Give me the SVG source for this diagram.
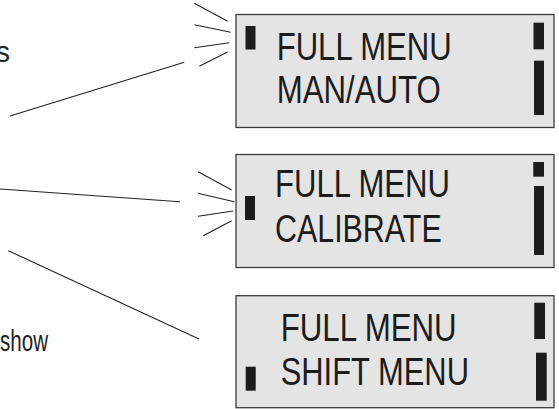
<svg xmlns="http://www.w3.org/2000/svg" width="559" height="409" viewBox="0 0 559 409">
<style>
.box{fill:#e4e4e4;stroke:#3a3a3a;stroke-width:1.3}
.bar{fill:#1c1c1c}
.lcd{font-family:"Liberation Sans Narrow","Liberation Sans",Arial,sans-serif;font-size:39px;fill:#1c1c1c}
.lbl{font-family:"Liberation Sans Narrow","Liberation Sans",Arial,sans-serif;font-size:30px;fill:#222}
.ln{stroke:#222;stroke-width:1.1;fill:none}
</style>
<rect width="559" height="409" fill="#fff"/>
<text class="lbl" x="-4" y="61.5" textLength="14" lengthAdjust="spacingAndGlyphs">s</text>
<text class="lbl" x="0" y="350.5" textLength="48" lengthAdjust="spacingAndGlyphs">show</text>
<g id="connectors">
<line class="ln" x1="194.3" y1="3.3" x2="227.7" y2="21.3"/>
<line class="ln" x1="194.3" y1="24.7" x2="230.7" y2="32.3"/>
<line class="ln" x1="194.3" y1="47.7" x2="229.3" y2="42.7"/>
<line class="ln" x1="199.3" y1="66.3" x2="227.7" y2="52"/>
<line class="ln" x1="10" y1="116" x2="184.3" y2="62.3"/>
<line class="ln" x1="198" y1="171.7" x2="231.7" y2="190"/>
<line class="ln" x1="198" y1="193.3" x2="234.3" y2="201.7"/>
<line class="ln" x1="198" y1="216.3" x2="233.3" y2="211"/>
<line class="ln" x1="203.3" y1="235.7" x2="231.7" y2="220.7"/>
<line class="ln" x1="0" y1="189" x2="180" y2="201.7"/>
<line class="ln" x1="8.3" y1="250.7" x2="199" y2="339"/>
</g>
<g id="display1">
<rect class="box" x="236" y="14.5" width="318" height="113"/>
<rect class="bar" x="245.5" y="26" width="10" height="23.5"/>
<rect class="bar" x="533.5" y="22.7" width="10.5" height="26.6"/>
<rect class="bar" x="534" y="60.7" width="10" height="54.3"/>
<text class="lcd" x="276.7" y="60" textLength="175" lengthAdjust="spacingAndGlyphs">FULL MENU</text>
<text class="lcd" x="276.7" y="103.3" textLength="164" lengthAdjust="spacingAndGlyphs">MAN/AUTO</text>
</g>
<g id="display2">
<rect class="box" x="236" y="154.5" width="318" height="113"/>
<rect class="bar" x="245" y="196" width="10" height="24"/>
<rect class="bar" x="533.3" y="162" width="10.7" height="14.7"/>
<rect class="bar" x="534" y="186" width="10" height="69"/>
<text class="lcd" x="275" y="197.3" textLength="175" lengthAdjust="spacingAndGlyphs">FULL MENU</text>
<text class="lcd" x="275" y="241.7" textLength="166.7" lengthAdjust="spacingAndGlyphs">CALIBRATE</text>
</g>
<g id="display3">
<rect class="box" x="236" y="295.7" width="318" height="112"/>
<rect class="bar" x="245.7" y="366.7" width="10" height="24"/>
<rect class="bar" x="534.3" y="302.7" width="10.7" height="36.3"/>
<rect class="bar" x="536" y="352.7" width="10.7" height="48"/>
<text class="lcd" x="280.7" y="340.7" textLength="176" lengthAdjust="spacingAndGlyphs">FULL MENU</text>
<text class="lcd" x="280.7" y="385" textLength="188.3" lengthAdjust="spacingAndGlyphs">SHIFT MENU</text>
</g>
</svg>
